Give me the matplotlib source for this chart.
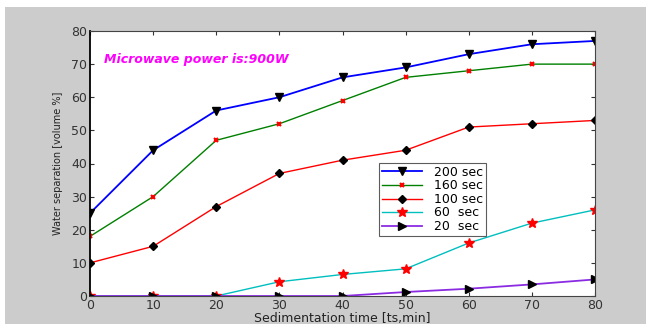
import matplotlib
matplotlib.use("Agg")
import matplotlib.pyplot as plt
from matplotlib.patches import Rectangle

# sedimentation time [min]
time = [0, 10, 20, 30, 40, 50, 60, 70, 80]

# water separation [volume %] for each microwave irradiation time
sep_200 = [25, 44, 56, 60, 66, 69, 73, 76, 77]
sep_160 = [18, 30, 47, 52, 59, 66, 68, 70, 70]
sep_100 = [10, 15, 27, 37, 41, 44, 51, 52, 53]
sep_60 = [0, 0, 0, 4.3, 6.5, 8.2, 16, 22, 26]
sep_20 = [0, 0, 0, 0, 0, 1.2, 2.2, 3.5, 5]

labels = ["200 sec", "160 sec", "100 sec", "60  sec", "20  sec"]

fig = plt.figure(figsize=(6.46, 3.24), dpi=100)
fig.patch.set_facecolor("white")
fig.patches.append(Rectangle((5 / 646, -0.1), 1.1, 1.1 - 7 / 324, transform=fig.transFigure,
                             facecolor="#cccccc", edgecolor="none", zorder=-10))

ax = fig.add_axes([90 / 646, 28 / 324, 505 / 646, 265 / 324])
ax.set_facecolor("white")

ax.plot(time, sep_200, color="blue", lw=1.3, marker="v", ms=6,
        mfc="black", mec="black", label=labels[0])
ax.plot(time, sep_160, color="green", lw=1.0, marker="x", ms=3.5,
        mec="red", mew=1.5, label=labels[1])
ax.plot(time, sep_100, color="red", lw=1.0, marker="D", ms=4.5,
        mfc="black", mec="black", label=labels[2])
ax.plot(time, sep_60, color="#00bfbf", lw=1.0, marker="*", ms=7,
        mfc="red", mec="red", label=labels[3])
ax.plot(time, sep_20, color="#8a2be2", lw=1.3, marker=">", ms=5.5,
        mfc="black", mec="black", label=labels[4])

ax.set_xlim(0, 80)
ax.set_ylim(0, 80)
ax.set_xticks(range(0, 81, 10))
ax.set_yticks(range(0, 81, 10))
ax.tick_params(direction="in", length=3, labelsize=9, colors="#333333",
               top=True, right=True, labeltop=False, labelright=False, pad=2)
for s in ax.spines.values():
    s.set_color("#444444")
ax.spines["left"].set_color("black")
ax.spines["left"].set_linewidth(1.3)

ax.set_xlabel("Sedimentation time [ts,min]", fontsize=9, color="#222222", labelpad=0)
ax.set_ylabel("Water separation [volume %]", fontsize=7, color="#222222", labelpad=6)

ax.text(2.2, 71.5, "Microwave power is:900W", color="magenta", fontsize=9,
        fontweight="bold", fontstyle="italic", va="center")

leg = ax.legend(loc="upper left", bbox_to_anchor=(0.56, 0.525), fontsize=9,
                frameon=True, fancybox=False, edgecolor="#333333",
                borderpad=0.2, labelspacing=0.05, handlelength=3.2,
                handletextpad=1.0)
leg.get_frame().set_linewidth(0.8)

fig.savefig("out.png", dpi=100)
